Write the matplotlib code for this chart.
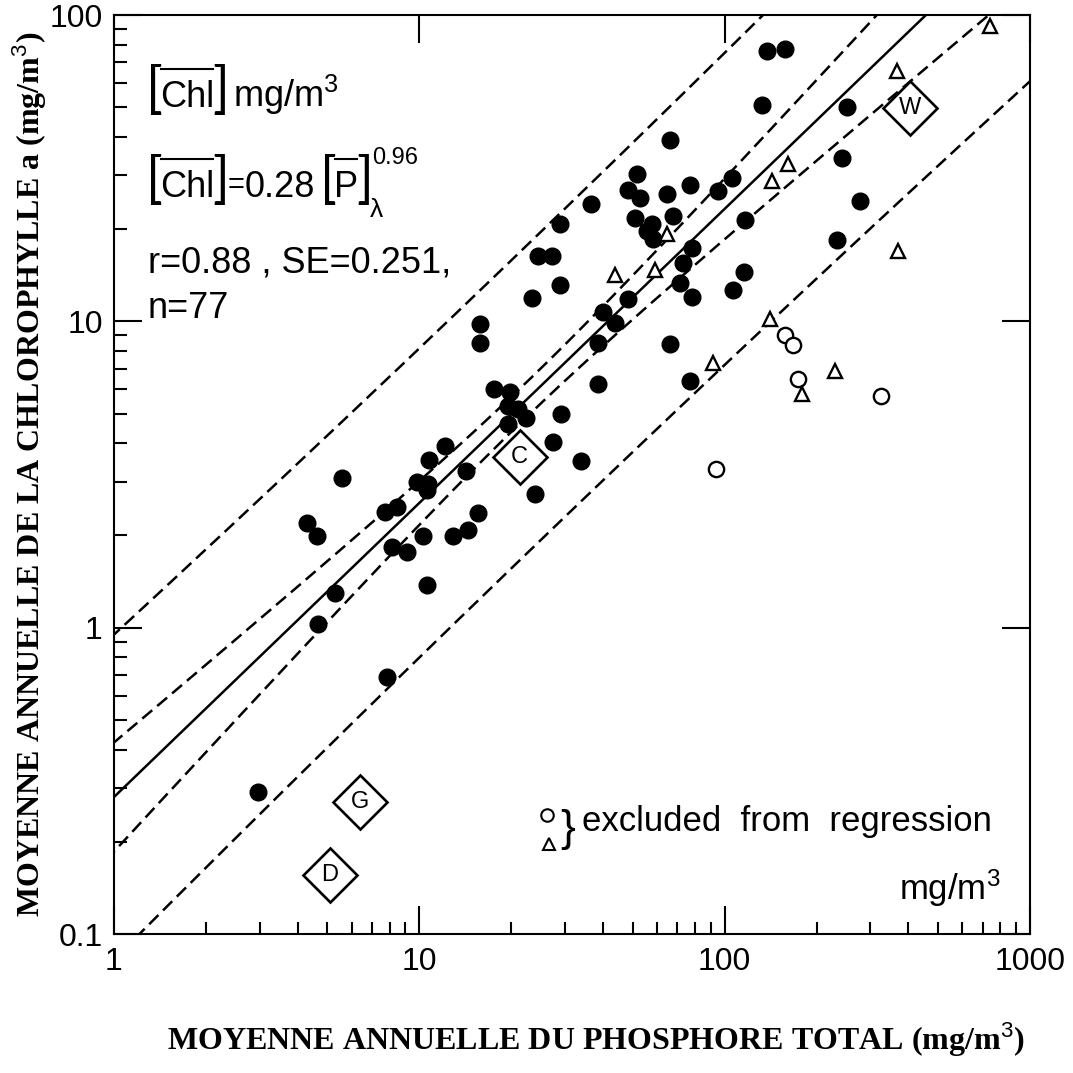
import numpy as np
import matplotlib
matplotlib.use("Agg")
import matplotlib.pyplot as plt
from matplotlib.lines import Line2D
from matplotlib.ticker import FixedLocator, FixedFormatter, NullFormatter

plt.rcParams['font.family'] = ['Liberation Sans', 'DejaVu Sans']
plt.rcParams['mathtext.fontset'] = 'custom'
plt.rcParams['mathtext.rm'] = 'Liberation Sans'
plt.rcParams['mathtext.it'] = 'Liberation Sans:italic'
plt.rcParams['mathtext.bf'] = 'Liberation Sans:bold'

# Lakes included in the regression: total phosphorus (mg/m3) and chlorophyll a (mg/m3)
p_fit = [28.9, 24.5, 27.2, 28.9, 23.4, 15.8, 15.8, 137.7, 157.7, 132.5,
         66.2, 51.6, 48.3, 52.8, 64.8, 77.1, 36.5, 50.9, 57.8, 55.7,
         58.3, 67.8, 95.1, 105.7, 116.7, 242.5, 251.8, 277.5, 233.4, 78.2,
         73.1, 71.4, 78.2, 115.8, 106.6, 48.3, 40.0, 43.8, 38.5, 66.2,
         38.5, 77.1, 29.1, 33.9, 17.6, 19.8, 19.5, 21.1, 22.4, 19.5,
         27.4, 14.2, 12.1, 10.8, 9.8, 10.7, 10.6, 5.58, 4.29, 4.62,
         10.3, 12.9, 14.4, 15.6, 8.14, 9.12, 10.6, 5.3, 4.66, 7.72,
         8.45, 23.9, 7.84, 2.96]
chl_fit = [20.8, 16.4, 16.4, 13.1, 11.9, 9.8, 8.5, 76.3, 77.4, 50.8,
           39.1, 30.3, 26.9, 25.3, 26.1, 27.9, 24.2, 21.8, 20.8, 19.7,
           18.6, 22.1, 26.7, 29.4, 21.4, 34.1, 50.1, 24.7, 18.5, 17.4,
           15.5, 13.3, 12.0, 14.5, 12.7, 11.8, 10.7, 9.9, 8.5, 8.45,
           6.26, 6.4, 5.0, 3.49, 6.03, 5.9, 5.3, 5.19, 4.85, 4.64,
           4.05, 3.24, 3.93, 3.54, 2.98, 2.95, 2.81, 3.09, 2.2, 1.99,
           1.99, 1.99, 2.09, 2.36, 1.83, 1.77, 1.38, 1.30, 1.03, 2.38,
           2.47, 2.74, 0.69, 0.29]

# Lakes excluded from the regression
p_excl_circle = [158, 167, 174, 325, 93.7]
chl_excl_circle = [9.0, 8.4, 6.5, 5.7, 3.3]
p_excl_triangle = [740, 367, 161, 143, 64.8, 59.2, 43.8, 370, 141, 91.6, 230, 179]
chl_excl_triangle = [92, 65.6, 32.7, 28.7, 19.3, 14.7, 14.2, 17.0, 10.2, 7.3, 6.9, 5.8]

# Named lakes
lake_names = ['W', 'C', 'G', 'D']
lake_p = [405, 21.3, 6.4, 5.1]
lake_chl = [49.7, 3.6, 0.27, 0.156]

# Regression [Chl] = 0.28 [P]^0.96 in log-log space
COEF = 0.28
EXPONENT = 0.96
SE = 0.251
N_LAKES = 77
T_CRIT = 1.99
LOG_P_MEAN = 1.35
LOG_P_SXX = 16.0

x_ticks = [1, 10, 100, 1000]
x_tick_labels = ['1', '10', '100', '1000']
y_ticks = [0.1, 1, 10, 100]
y_tick_labels = ['0.1', '1', '10', '100']

W = H = 1073
fig = plt.figure(figsize=(W / 100, H / 100), dpi=100)
ax = fig.add_axes([0.1062, 0.1295, 0.8537, 0.8565])
ax.set_xscale('log')
ax.set_yscale('log')
ax.set_xlim(1, 1000)
ax.set_ylim(0.1, 100)

# regression line with confidence and prediction bands
logp = np.linspace(-0.2, 3.2, 400)
center = np.log10(COEF) + EXPONENT * logp
dev = (logp - LOG_P_MEAN) ** 2 / LOG_P_SXX
conf = T_CRIT * SE * np.sqrt(1.0 / N_LAKES + dev)
pred = T_CRIT * SE * np.sqrt(1.0 + 1.0 / N_LAKES + dev)
pgrid = 10 ** logp
lw = 1.8
dash = (5.2, 2.6)
ax.plot(pgrid, 10 ** center, color='black', lw=lw, zorder=2)
for off in (conf, -conf, pred, -pred):
    ax.plot(pgrid, 10 ** (center + off), color='black', lw=lw,
            dashes=dash, zorder=2)

ax.plot(p_fit, chl_fit, 'o', color='black', ms=12, zorder=4)
ax.plot(p_excl_circle, chl_excl_circle, 'o', mfc='white', mec='black',
        mew=1.7, ms=11, zorder=4)
ax.plot(p_excl_triangle, chl_excl_triangle, '^', mfc='white', mec='black',
        mew=1.7, ms=10.5, zorder=4)

ax.plot(lake_p, lake_chl, 'D', mfc='white', mec='black', mew=1.9, ms=27,
        zorder=5)
for name, px, cy in zip(lake_names, lake_p, lake_chl):
    ax.text(px, cy, name, ha='center', va='center', fontsize=17, zorder=6)

# axes, ticks
for sp in ax.spines.values():
    sp.set_linewidth(1.5)
ax.xaxis.set_major_locator(FixedLocator(x_ticks))
ax.xaxis.set_major_formatter(FixedFormatter(x_tick_labels))
ax.yaxis.set_major_locator(FixedLocator(y_ticks))
ax.yaxis.set_major_formatter(FixedFormatter(y_tick_labels))
ax.xaxis.set_minor_formatter(NullFormatter())
ax.yaxis.set_minor_formatter(NullFormatter())
ax.tick_params(which='major', direction='in', length=20, width=1.5,
               labelsize=23, top=True, right=True)
ax.tick_params(axis='x', which='major', pad=9)
ax.tick_params(axis='y', which='major', pad=8)
ax.tick_params(which='minor', direction='in', length=9, width=1.5,
               top=False, right=False)

# equation block, laid out left to right in figure pixels (origin top-left)
renderer = fig.canvas.get_renderer()
BR = 40    # bracket size
EQ = 26    # equation text size
BR_FONT = dict(family=['Lato', 'Liberation Sans'], weight='normal')


def put(px, py, s, size, **kw):
    t = fig.text(px / W, 1 - py / H, s, fontsize=size, ha='left',
                 va='baseline', **kw)
    return t, t.get_window_extent(renderer)


def bar(x0, x1, py):
    fig.add_artist(Line2D([x0 / W, x1 / W], [1 - py / H] * 2,
                          transform=fig.transFigure, lw=1.5, color='black'))


def bracketed(x, base, inner):
    """Draw [inner] with a bar over inner; return the right edge."""
    _, bb = put(x, base, '[', BR, **BR_FONT)
    top = H - bb.y1 + 3
    _, bi = put(bb.x1 - 3, base, inner, EQ)
    bar(bi.x0 + 1, bi.x1 - 1, top)
    _, bc = put(bi.x1 - 2, base, ']', BR, **BR_FONT)
    return bc.x1


# line 1: [Chl] mg/m3
x = bracketed(146, 107, 'Chl')
put(x + 4, 107, 'mg/m$^3$', EQ)
# line 2: [Chl]=0.28[P] with exponent and subscript
x = bracketed(146, 197, 'Chl')
_, b = put(x - 1, 193, '=', 21)
_, b = put(b.x1, 197, '0.28', EQ)
x = bracketed(b.x1 + 5, 197, 'P')
put(x - 3, 217, 'λ', 19)
put(x - 1, 164, '0.96', 17)
# statistics
put(148, 273, 'r=0.88 , SE=0.251,', EQ)
put(148, 318, 'n=77', EQ)

# key for excluded lakes
ax.plot([0.473], [0.130], 'o', mfc='white', mec='black', mew=1.5, ms=9,
        transform=ax.transAxes, clip_on=False)
ax.plot([0.475], [0.098], '^', mfc='white', mec='black', mew=1.5, ms=9,
        transform=ax.transAxes, clip_on=False)
ax.text(0.487, 0.114, '}', transform=ax.transAxes, fontsize=32,
        ha='left', va='center')
ax.text(0.511, 0.122, 'excluded  from  regression', transform=ax.transAxes,
        fontsize=25, ha='left', va='center')
ax.text(0.968, 0.050, 'mg/m$^3$', transform=ax.transAxes, fontsize=25,
        ha='right', va='center')

fig.text(0.028, 0.558, 'MOYENNE ANNUELLE DE LA CHLOROPHYLLE a (mg/m$^3$)',
         rotation=90, ha='center', va='center', fontsize=23,
         family='Liberation Serif', weight='bold')
fig.text(0.555, 0.031, 'MOYENNE ANNUELLE DU PHOSPHORE TOTAL (mg/m$^3$)',
         ha='center', va='center', fontsize=23,
         family='Liberation Serif', weight='bold')

fig.savefig('out.png', dpi=100)
